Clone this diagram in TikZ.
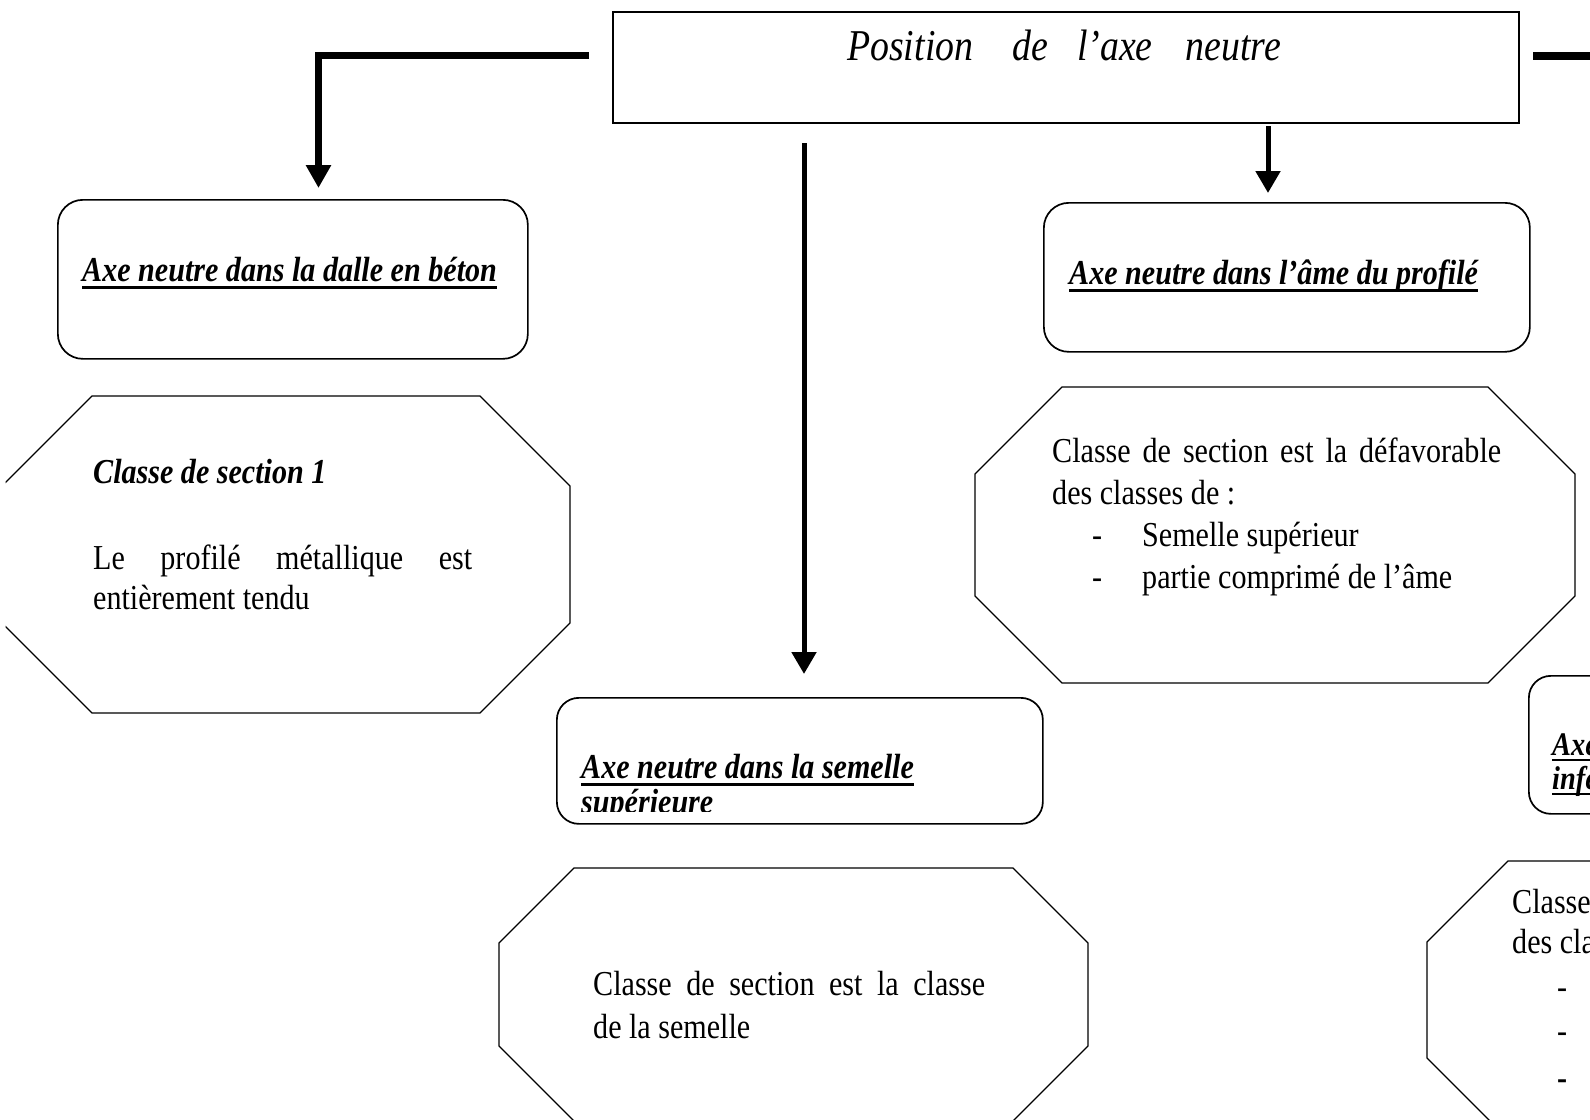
\documentclass[tikz,border=0pt]{standalone}
\usepackage{fontspec}
\setmainfont{Liberation Serif}[FakeStretch=0.86]
\usetikzlibrary{arrows.meta}

% octagon with equal corner cuts: left, top, right, bottom, cut
\newcommand\octpath[5]{%
  \draw[oct] (#1+#5,#2) -- (#3-#5,#2) -- (#3,#2+#5) -- (#3,#4-#5)
    -- (#3-#5,#4) -- (#1+#5,#4) -- (#1,#4-#5) -- (#1,#2+#5) -- cycle;}

\begin{document}
\begin{tikzpicture}[x=1pt,y=-1pt,
  frame/.style={draw, line width=1.7pt, inner sep=0pt, anchor=north west},
  rbox/.style={frame, rounded corners=25pt},
  oct/.style={draw, line width=1.3pt, line join=miter},
  body/.style={inner sep=0pt, anchor=base west, font=\fontsize{35}{40}\selectfont},
  head/.style={inner sep=0pt, anchor=base west, font=\fontsize{35}{40}\selectfont\bfseries\itshape},
  headsmall/.style={inner sep=0pt, anchor=base west, font=\fontsize{33}{36}\selectfont\bfseries\itshape},
  uline/.style={line width=3pt},
  link/.style={line width=5pt, -{Triangle[width=24pt,length=22pt]}},
  biglink/.style={line width=7pt, line join=miter, -{Triangle[width=24pt,length=23pt]}},
]
\useasboundingbox (0,0) rectangle (1590,1119);
\begin{scope}
\clip (5.5,0) rectangle (1590,1119);

% ---- title block ----
\node[frame, minimum width=906pt, minimum height=111pt] (top) at (612,11) {};
\node[inner sep=0pt, anchor=base west, font=\fontsize{44}{50}\selectfont\itshape] (ttl) at (847,60)
  {Position\hspace{39pt}de\hspace{29pt}l’axe\hspace{33pt}neutre};

% ---- connectors ----
\coordinate (lA) at (589,55.5);
\coordinate (lB) at (318.5,188);
\draw[biglink] (lA) -| (lB);

\coordinate (mA) at (804,143);
\coordinate (mB) at (804,674);
\draw[link] (mA) -- (mB);

\coordinate (rA) at (1268,126);
\coordinate (rB) at (1268,193);
\draw[link] (rA) -- (rB);

\coordinate (eA) at (1533,55.5);
\coordinate (eB) at (1600,55.5);
\draw[line width=8pt] (eA) -- (eB);

% ---- case 1: slab ----
\node[rbox, minimum width=470pt, minimum height=159pt] (b1) at (57,199) {};
\node[head] (h1) at (82,281) {Axe neutre dans la dalle en béton};
\draw[uline] ([yshift=-6pt]h1.base west) -- ([yshift=-6pt]h1.base east);

\octpath{2}{396}{570}{713}{90}
\node[head] (c1a) at (93,483) {Classe de section 1};
\node[body] (c1b) at (93,569) {\makebox[379pt][s]{Le profilé métallique est}};
\node[body] (c1c) at (93,609) {entièrement tendu};

% ---- case 2: web ----
\node[rbox, minimum width=486pt, minimum height=149pt] (b2) at (1043,202) {};
\node[head] (h2) at (1069,284) {Axe neutre dans l’âme du profilé};
\draw[uline] ([yshift=-6pt]h2.base west) -- ([yshift=-6pt]h2.base east);

\octpath{975}{387}{1575}{683}{87}
\node[body] (c2a) at (1052,462) {\makebox[449pt][s]{Classe de section est la défavorable}};
\node[body] (c2b) at (1052,504) {des classes de :};
\node[body] (c2c) at (1092,546) {-};
\node[body] (c2d) at (1142,546) {Semelle supérieur};
\node[body] (c2e) at (1092,588) {-};
\node[body] (c2f) at (1142,588) {partie comprimé de l’âme};

% ---- case 3: upper flange ----
\node[rbox, rounded corners=22pt, minimum width=486pt, minimum height=126pt] (b3) at (556,697) {};
\begin{scope}
  \clip (556,697) rectangle (1042,811.5);
  \node[head] (h3a) at (581,778) {Axe neutre dans la semelle};
  \node[head] (h3b) at (581,813) {supérieure};
  \draw[uline] ([yshift=-6pt]h3a.base west) -- ([yshift=-6pt]h3a.base east);
  \draw[uline] ([yshift=-6pt]h3b.base west) -- ([yshift=-6pt]h3b.base east);
\end{scope}

\octpath{499}{868}{1088}{1121}{75}
\node[body] (c3a) at (593,995) {\makebox[392pt][s]{Classe de section est la classe}};
\node[body] (c3b) at (593,1038) {de la semelle};

% ---- case 4: lower flange ----
\node[rbox, rounded corners=22pt, minimum width=486pt, minimum height=138pt] (b4) at (1528,675) {};
\node[headsmall] (h4a) at (1552,755) {Axe neutre dans la semelle};
\node[headsmall] (h4b) at (1552,789) {inférieure};
\draw[line width=2.8pt] ([yshift=-5pt]h4a.base west) -- ([yshift=-5pt]h4a.base east);
\draw[line width=2.8pt] ([yshift=-5pt]h4b.base west) -- ([yshift=-5pt]h4b.base east);

\octpath{1427}{861}{2027}{1139}{81}
\node[body] (c4a) at (1512,913) {\makebox[449pt][s]{Classe de section est la défavorable}};
\node[body] (c4b) at (1512,953) {des classes de :};
\node[body] (c4c) at (1557,998) {-};
\node[body] (c4d) at (1557,1042) {-};
\node[body] (c4e) at (1557,1089) {\textbf{-}};
\end{scope}
\end{tikzpicture}
\end{document}
